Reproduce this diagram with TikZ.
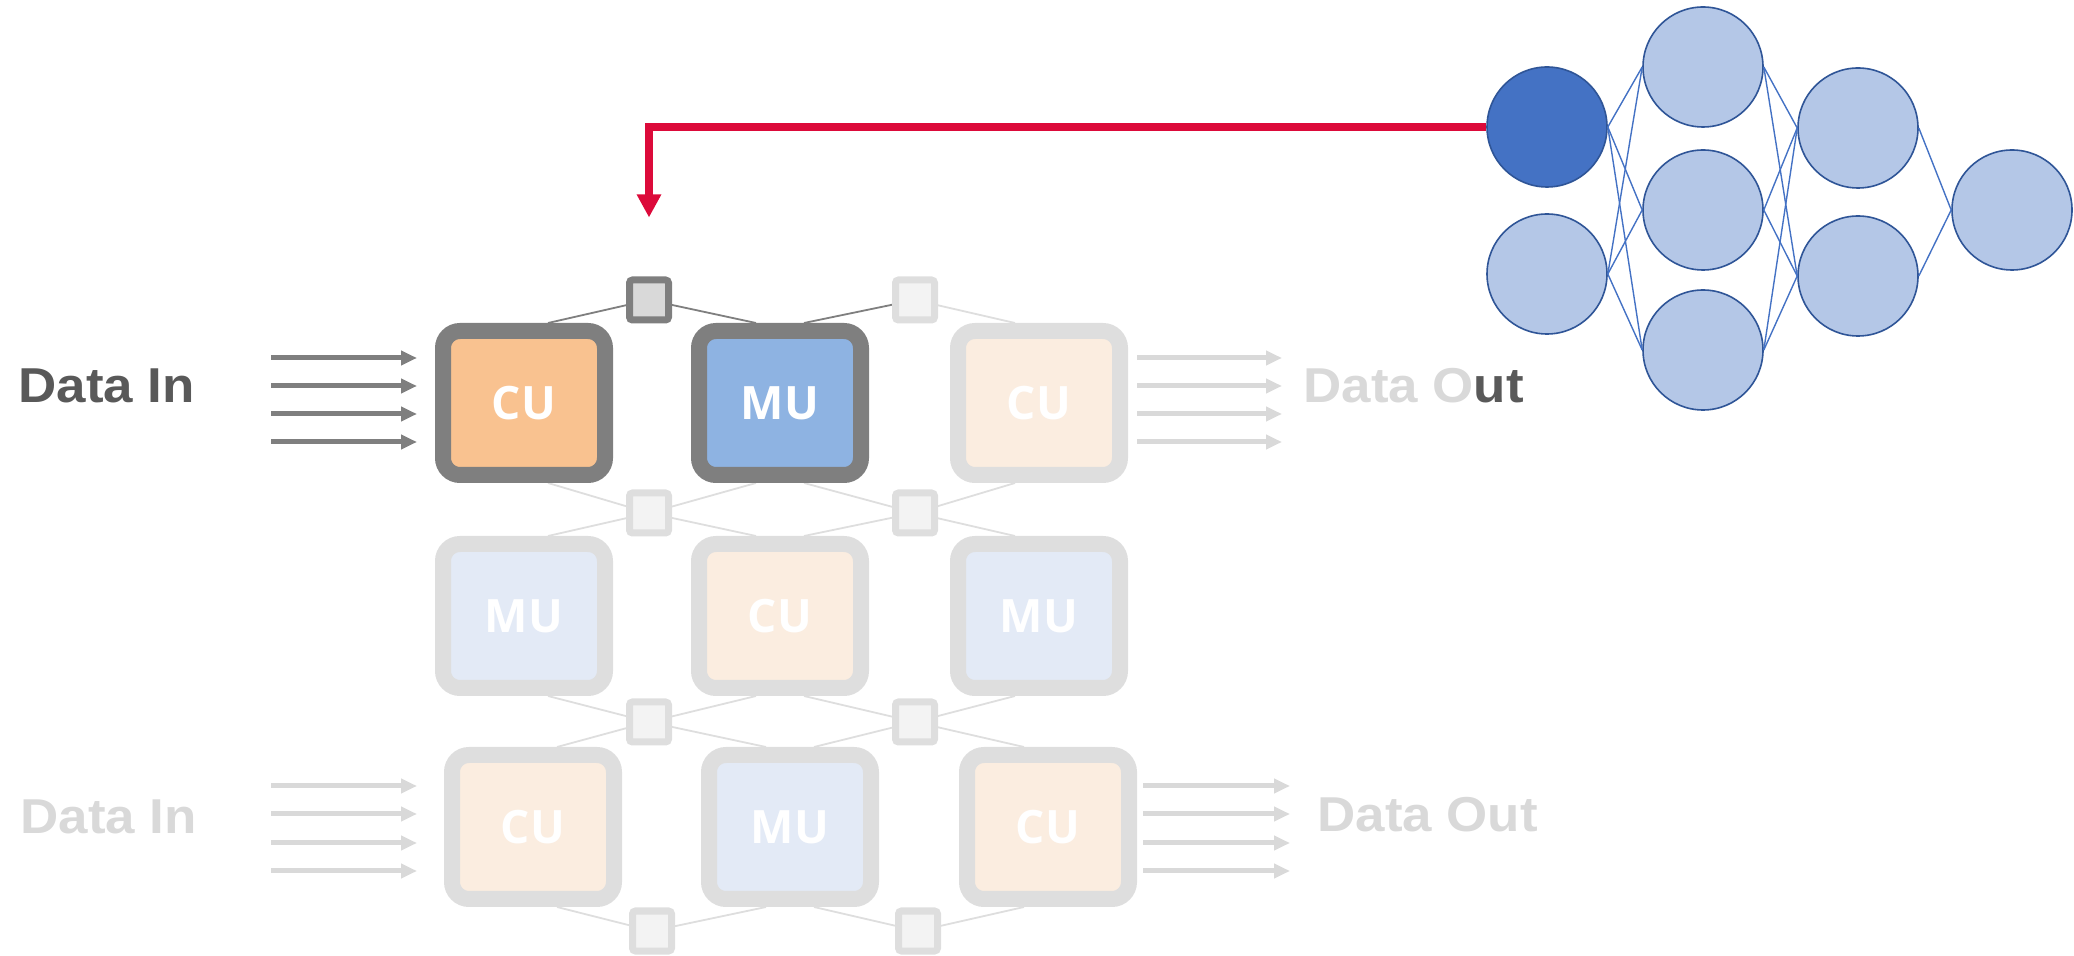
\documentclass[tikz,border=0pt]{standalone}
\usepackage{fontspec}
\setmainfont{Liberation Sans}
\newfontfamily\captionfont{Liberation Sans}[FakeStretch=1.08]
\newfontfamily\unitfont{Open Sans}
\usetikzlibrary{arrows.meta,calc,backgrounds}

\definecolor{edgeDark}{HTML}{7F7F7F}
\definecolor{edgeLight}{HTML}{DEDEDE}
\definecolor{cuOnFill}{HTML}{F9C290}
\definecolor{muOnFill}{HTML}{8EB3E2}
\definecolor{cuOffFill}{HTML}{FBEDE0}
\definecolor{muOffFill}{HTML}{E3EAF6}
\definecolor{swOnFill}{HTML}{D9D9D9}
\definecolor{swOffFill}{HTML}{F3F3F3}
\definecolor{labelDark}{HTML}{595959}
\definecolor{labelLight}{HTML}{D9D9D9}
\definecolor{signalRed}{HTML}{DC0A3A}
\definecolor{neuronFill}{HTML}{B4C7E7}
\definecolor{neuronLine}{HTML}{2F5597}
\definecolor{neuronActive}{HTML}{4472C4}
\definecolor{synapse}{HTML}{4472C4}

\begin{document}
\begin{tikzpicture}[x=0.5pt,y=-0.5pt,
  unitbox/.style={rectangle, rounded corners=8.5pt, line width=8pt,
    minimum width=81pt, minimum height=72pt, inner sep=0pt,
    font=\unitfont\bfseries\fontsize{23}{27}\selectfont, text=white},
  cuOn/.style={unitbox, draw=edgeDark, fill=cuOnFill},
  muOn/.style={unitbox, draw=edgeDark, fill=muOnFill},
  cuOff/.style={unitbox, draw=edgeLight, fill=cuOffFill},
  muOff/.style={unitbox, draw=edgeLight, fill=muOffFill},
  switchbox/.style={rectangle, rounded corners=1.5pt, line width=3.5pt,
    minimum width=19.5pt, minimum height=20pt, inner sep=0pt},
  swOn/.style={switchbox, draw=edgeDark, fill=swOnFill},
  swOff/.style={switchbox, draw=edgeLight, fill=swOffFill},
  linkOn/.style={draw=edgeDark, line width=0.9pt},
  linkOff/.style={draw=edgeLight, line width=0.9pt},
  flowOn/.style={draw=edgeDark, line width=2.5pt, -{Triangle[length=8pt,width=7pt]}},
  flowOff/.style={draw=labelLight, line width=2.5pt, -{Triangle[length=8pt,width=7pt]}},
  caption/.style={inner sep=0pt, anchor=base west,
    font=\captionfont\bfseries\fontsize{24.5}{28}\selectfont},
  neuron/.style={circle, minimum size=60pt, inner sep=0pt, line width=0.8pt,
    draw=neuronLine, fill=neuronFill},
  synapseline/.style={draw=synapse, line width=0.7pt},
  signal/.style={draw=signalRed, line width=4pt,
    -{Triangle[length=11.5pt,width=11.5pt]}}
]
\useasboundingbox (0,0) rectangle (2074,956);

% processing units
\node[cuOn]  (c11) at (524,403) {CU};
\node[muOn]  (c12) at (780,403) {MU};
\node[cuOff] (c13) at (1039,403) {CU};
\node[muOff] (c21) at (524,616) {MU};
\node[cuOff] (c22) at (780,616) {CU};
\node[muOff] (c23) at (1039,616) {MU};
\node[cuOff] (c31) at (533,827) {CU};
\node[muOff] (c32) at (790,827) {MU};
\node[cuOff] (c33) at (1048,827) {CU};

% switches
\node[swOn]  (s0A) at (649,300) {};
\node[swOff] (s0B) at (915,300) {};
\node[swOff] (s1A) at (649,513) {};
\node[swOff] (s1B) at (915,513) {};
\node[swOff] (s2A) at (649,722) {};
\node[swOff] (s2B) at (915,722) {};
\node[swOff] (s3A) at (652,931) {};
\node[swOff] (s3B) at (918,931) {};

% interconnect between switches and units
\begin{scope}[on background layer]
  \draw[linkOn]  (s0A.center) -- ($(c11.north)+(24,0)$);
  \draw[linkOn]  (s0A.center) -- ($(c12.north)+(-24,0)$);
  \draw[linkOn]  (s0B.center) -- ($(c12.north)+(24,0)$);
  \draw[linkOff] (s0B.center) -- ($(c13.north)+(-24,0)$);
  \draw[linkOff] (s1A.center) -- ($(c11.south)+(24,0)$);
  \draw[linkOff] (s1A.center) -- ($(c12.south)+(-24,0)$);
  \draw[linkOff] (s1A.center) -- ($(c21.north)+(24,0)$);
  \draw[linkOff] (s1A.center) -- ($(c22.north)+(-24,0)$);
  \draw[linkOff] (s1B.center) -- ($(c12.south)+(24,0)$);
  \draw[linkOff] (s1B.center) -- ($(c13.south)+(-24,0)$);
  \draw[linkOff] (s1B.center) -- ($(c22.north)+(24,0)$);
  \draw[linkOff] (s1B.center) -- ($(c23.north)+(-24,0)$);
  \draw[linkOff] (s2A.center) -- ($(c21.south)+(24,0)$);
  \draw[linkOff] (s2A.center) -- ($(c22.south)+(-24,0)$);
  \draw[linkOff] (s2A.center) -- ($(c31.north)+(24,0)$);
  \draw[linkOff] (s2A.center) -- ($(c32.north)+(-24,0)$);
  \draw[linkOff] (s2B.center) -- ($(c22.south)+(24,0)$);
  \draw[linkOff] (s2B.center) -- ($(c23.south)+(-24,0)$);
  \draw[linkOff] (s2B.center) -- ($(c32.north)+(24,0)$);
  \draw[linkOff] (s2B.center) -- ($(c33.north)+(-24,0)$);
  \draw[linkOff] (s3A.center) -- ($(c31.south)+(24,0)$);
  \draw[linkOff] (s3A.center) -- ($(c32.south)+(-24,0)$);
  \draw[linkOff] (s3B.center) -- ($(c32.south)+(24,0)$);
  \draw[linkOff] (s3B.center) -- ($(c33.south)+(-24,0)$);
\end{scope}

% data labels
\node[caption, text=labelDark]  (inTop)  at (18,403)   {Data In};
\node[caption, text=labelLight] (outTop) at (1303,403) {Data O\textcolor{labelDark}{ut}};
\node[caption, text=labelLight] (inBot)  at (20,834)   {Data In};
\node[caption, text=labelLight] (outBot) at (1317,832) {Data Out};

% data streams
\foreach \i/\yy in {1/358,2/386,3/414,4/442}{
  \coordinate (ia\i) at (271,\yy);
  \coordinate (oa\i) at (1282,\yy);
  \draw[flowOn] (ia\i) -- ($(ia\i -| c11.west)+(-18,0)$);
  \draw[flowOff] ($(oa\i -| c13.east)+(9,0)$) -- (oa\i);
}
\foreach \i/\yy in {1/786,2/814,3/843,4/871}{
  \coordinate (ib\i) at (271,\yy);
  \coordinate (ob\i) at (1290,\yy);
  \draw[flowOff] (ib\i) -- ($(ib\i -| c31.west)+(-27,0)$);
  \draw[flowOff] ($(ob\i -| c33.east)+(6,0)$) -- (ob\i);
}

% neural network
\node[neuron, fill=neuronActive] (n1a) at (1547,127) {};
\node[neuron] (n1b) at (1547,274) {};
\node[neuron] (n2a) at (1703,67)  {};
\node[neuron] (n2b) at (1703,210) {};
\node[neuron] (n2c) at (1703,350) {};
\node[neuron] (n3a) at (1858,128) {};
\node[neuron] (n3b) at (1858,276) {};
\node[neuron] (n4)  at (2012,210) {};

\foreach \a in {n1a,n1b}{\foreach \b in {n2a,n2b,n2c}{\draw[synapseline] (\a.east) -- (\b.west);}}
\foreach \a in {n2a,n2b,n2c}{\foreach \b in {n3a,n3b}{\draw[synapseline] (\a.east) -- (\b.west);}}
\foreach \a in {n3a,n3b}{\draw[synapseline] (\a.east) -- (n4.west);}

% mapping of the active neuron onto the fabric
\draw[signal, shorten >=29.5pt] (n1a.west) -| (s0A);
\end{tikzpicture}
\end{document}
